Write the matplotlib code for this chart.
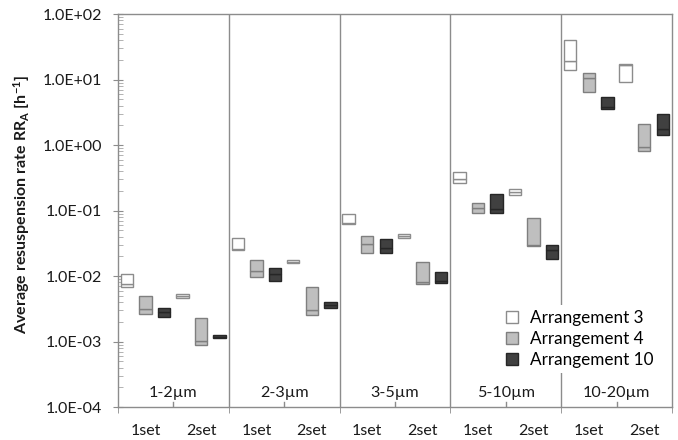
import numpy as np
import matplotlib
matplotlib.use('Agg')
import matplotlib.pyplot as plt
from matplotlib.ticker import FixedLocator, LogLocator, FuncFormatter, NullFormatter

plt.rcParams['font.family'] = ['Lato', 'DejaVu Sans']
plt.rcParams['mathtext.default'] = 'regular'

# categories
groups = ['1-2µm', '2-3µm', '3-5µm', '5-10µm', '10-20µm']
sets = ['1set', '2set']
arrangements = ['Arrangement 3', 'Arrangement 4', 'Arrangement 10']

# min / median / max for each (group, set)
arr3_lo = [0.0069, 0.00467, 0.0249, 0.0156, 0.0627, 0.0384, 0.264, 0.173, 14.2, 9.28]
arr3_med = [0.00747, 0.00495, 0.0258, 0.0165, 0.065, 0.0412, 0.304, 0.19, 19.0, 16.9]
arr3_hi = [0.0107, 0.00526, 0.0376, 0.0177, 0.0871, 0.0442, 0.389, 0.212, 40.1, 17.5]

arr4_lo = [0.0026, 0.00089, 0.0098, 0.0025, 0.0227, 0.00763, 0.0922, 0.0287, 6.55, 0.807]
arr4_med = [0.00318, 0.00101, 0.0119, 0.00303, 0.0308, 0.0082, 0.1076, 0.0297, 10.5, 0.937]
arr4_hi = [0.00501, 0.00229, 0.0173, 0.0067, 0.0403, 0.0165, 0.131, 0.0766, 12.6, 2.10]

arr10_lo = [0.00237, 0.00112, 0.0085, 0.00329, 0.0227, 0.0077, 0.0903, 0.018, 3.52, 1.40]
arr10_med = [0.0028, 0.00119, 0.0106, 0.0036, 0.0267, 0.0084, 0.104, 0.0246, 3.86, 1.75]
arr10_hi = [0.0032, 0.00126, 0.0131, 0.00406, 0.0366, 0.0116, 0.178, 0.0297, 5.49, 2.96]

series = [(arr3_lo, arr3_med, arr3_hi), (arr4_lo, arr4_med, arr4_hi), (arr10_lo, arr10_med, arr10_hi)]
fills = ['white', '#bfbfbf', '#404040']
edges = ['#8c8c8c', '#7f7f7f', '#262626']
offsets = [-0.335, 0.0, 0.335]
bw = 0.224

fig = plt.figure(figsize=(6.78, 4.40), dpi=100)
ax = fig.add_axes([0.174, 0.075, 0.817, 0.893])

x = np.arange(len(groups) * len(sets))
handles = []
for (lo, med, hi), fc, ec, off, name in zip(series, fills, edges, offsets, arrangements):
    lo, med, hi = np.array(lo), np.array(med), np.array(hi)
    b = ax.bar(x + off, med - lo, bottom=lo, width=bw, color=fc, edgecolor=ec, linewidth=1, zorder=3, label=name)
    ax.bar(x + off, hi - med, bottom=med, width=bw, color=fc, edgecolor=ec, linewidth=1, zorder=3)
    handles.append(b)

ax.set_yscale('log')
ax.set_ylim(1e-4, 1e2)
ax.set_xlim(-0.5, len(x) - 0.5)

# group separators
for g in range(1, len(groups)):
    ax.axvline(g * 2 - 0.5, color='#8c8c8c', lw=1, zorder=1)
# small ticks between 1set and 2set
for g in range(len(groups)):
    ax.axvline(g * 2 + 0.5, ymin=0, ymax=0.013, color='#8c8c8c', lw=1, zorder=1)

# group names inside the plot
for g, name in enumerate(groups):
    ax.text(g * 2 + 0.5, 1.65e-4, name, ha='center', va='center', fontsize=11.6, color='#1a1a1a')

# x axis
ax.set_xticks(x)
ax.set_xticklabels(sets * len(groups), fontsize=11.5, color='#1a1a1a')
ax.xaxis.set_minor_locator(FixedLocator(np.arange(-0.5, len(x), 2)))
ax.tick_params(axis='x', which='major', length=0, pad=12.5)
ax.tick_params(axis='x', which='minor', length=4, direction='out', color='#8c8c8c')

# y axis
ax.yaxis.set_major_locator(LogLocator(base=10, numticks=10))
ax.yaxis.set_minor_locator(LogLocator(base=10, subs=np.arange(2, 10), numticks=20))
ax.yaxis.set_major_formatter(FuncFormatter(lambda v, p: f'{v:.1E}'))
ax.yaxis.set_minor_formatter(NullFormatter())
ax.tick_params(axis='y', which='major', direction='inout', length=7, labelsize=11.5, color='#8c8c8c', labelcolor='#1a1a1a', pad=8)
ax.tick_params(axis='y', which='minor', direction='in', length=3.5, color='#a6a6a6')

for s in ax.spines.values():
    s.set_color('#8c8c8c')
    s.set_linewidth(1)

fig.text(22 / 678, 1 - 204 / 440, 'Average resuspension rate RR$_A$ [h$^{-1}$]',
         rotation=90, ha='center', va='center', fontsize=11.5, fontweight='bold', color='#1a1a1a')

leg = ax.legend(handles=handles, loc='center', bbox_to_anchor=(580 / 678, 1 - 339 / 440),
                bbox_transform=fig.transFigure, fontsize=12.3, frameon=True, facecolor='white',
                edgecolor='none', framealpha=1, fancybox=False, handlelength=0.7, handleheight=0.7,
                handletextpad=0.7, labelspacing=0.29, borderpad=0.3)
leg.set_zorder(5)

fig.savefig('out.png', dpi=100)
